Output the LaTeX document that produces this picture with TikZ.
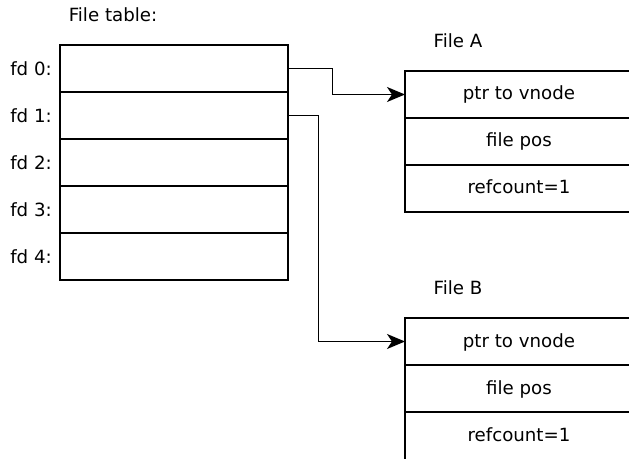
\documentclass[tikz,border=0pt]{standalone}
\usepackage{fontspec}
\setmainfont{DejaVu Sans}
\usetikzlibrary{arrows.meta,calc}
\begin{document}
\begin{tikzpicture}[x=1bp,y=-1bp,
  every node/.style={font=\fontsize{18.2bp}{22bp}\selectfont, inner sep=0pt, outer sep=0pt},
  cell/.style={draw, line width=1.4bp, minimum width=228bp, minimum height=47bp},
  fcell/.style={draw, line width=1.4bp, minimum width=228bp, minimum height=47bp, text height=13bp, text depth=2bp},
  ftext/.style={minimum width=228bp, minimum height=47bp, text height=13bp, text depth=2bp},
  conn/.style={line width=1.4bp, -{Stealth[length=18bp,width=15bp,inset=5bp]}}]
\useasboundingbox (0,0) rectangle (629,459);
\node (title) at (113,15) {File table:};
\foreach \i in {0,...,4}{
  \node[cell] (t\i) at (174,{68.5+47*\i}) {};
  \node (l\i) at (31,{68.5+47*\i}) {fd \i:};
}
\node (fa) at (458,41) {File A};
\node[fcell] (a1) at (519,94.5) {ptr to vnode};
\node[fcell] (a2) at (519,141.5) {file pos};
\node[fcell] (a3) at (519,188.5) {refcount=1};
\node (fb) at (458,288) {File B};
\node[fcell] (b1) at (519,341.5) {ptr to vnode};
\node[fcell] (b2) at (519,388.5) {file pos};
\node[ftext] (b3) at (519,435.5) {refcount=1};
\draw[line width=1.4bp] (b2.south west) -- ++(0,60);
\draw[conn] (t0.east) -- ++(44.5,0) |- (a1.west);
\draw[conn] (t1.east) -- ++(30.5,0) |- (b1.west);
\end{tikzpicture}
\end{document}
